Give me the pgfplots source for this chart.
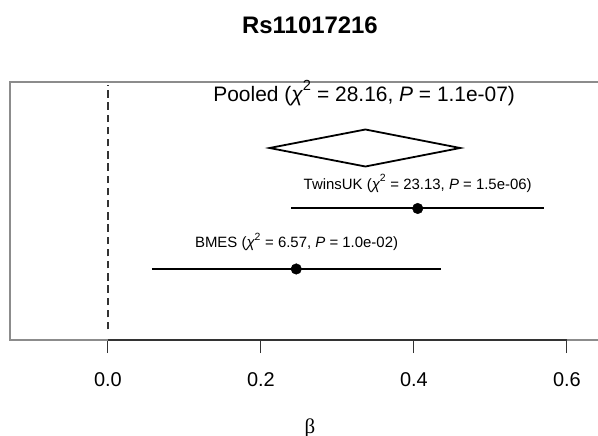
\documentclass[border=0pt]{standalone}
\usepackage{pgfplots}
\pgfplotsset{compat=1.18}
\usepackage{fontspec}
\setmainfont{Liberation Sans}
\newfontfamily\greekserif{Liberation Serif}

% chi-squared with an italic chi and a raised 2
\newcommand{\chisq}{{\itshape χ}\raisebox{0.15em}{\textsuperscript{2}}}

\begin{document}
\begin{tikzpicture}
\useasboundingbox (-10bp,-96bp) rectangle (588bp,340bp);
\clip (-10bp,-96bp) rectangle (588bp,340bp);
\begin{axis}[
  at={(0bp,0bp)}, anchor=south west,
  scale only axis, width=620bp, height=258bp,
  xmin=-0.128, xmax=0.6825, ymin=-0.174, ymax=4.091,
  axis line style={draw=black!45, line width=1.2bp},
  ytick=\empty,
  xtick={0,0.2,0.4,0.6},
  xtick pos=lower,
  tick align=outside,
  major tick length=13bp,
  x tick style={black!80, line width=0.9bp},
  xticklabel style={font=\fontsize{20}{24}\selectfont, anchor=base, yshift=-33bp},
  /pgf/number format/fixed,
  /pgf/number format/fixed zerofill,
  /pgf/number format/precision=1,
  /pgf/number format/assume math mode=true,
  clip=false,
]
% dark axis segment spanning the ticks
\addplot[black!80, line width=1.3bp] coordinates {(0,-0.174) (0.6,-0.174)};

% null effect reference line
\addplot[black!80, line width=1.9bp, dash pattern=on 7.5bp off 4.7bp]
  coordinates {(0,0) (0,4.04)};

% BMES: 95% CI and estimate
\addplot[black, line width=2bp] coordinates {(0.0574,1) (0.4353,1)};
\addplot[only marks, mark=*, mark size=5.3bp, black] coordinates {(0.2462,1)};

% TwinsUK: 95% CI and estimate
\addplot[black, line width=2bp] coordinates {(0.2397,2) (0.5700,2)};
\addplot[only marks, mark=*, mark size=5.3bp, black] coordinates {(0.4050,2)};

% pooled estimate diamond
\addplot[black, line width=1.8bp, fill=white, line join=miter]
  coordinates {(0.2113,3) (0.3366,3.306) (0.4605,3) (0.3366,2.694)} -- cycle;

\node[font=\fontsize{15}{18}\selectfont] at (axis cs:0.2466,1.451)
  {BMES (\chisq{} = 6.57, \textit{P} = 1.0e-02)};
\node[font=\fontsize{15}{18}\selectfont] at (axis cs:0.4050,2.417)
  {TwinsUK (\chisq{} = 23.13, \textit{P} = 1.5e-06)};
\node[font=\fontsize{21}{25}\selectfont] at (axis cs:0.3350,3.909)
  {Pooled (\chisq{} = 28.16, \textit{P} = 1.1e-07)};
\end{axis}

\node[font=\fontsize{24}{28}\selectfont\bfseries, anchor=base] at (300bp,306bp) {Rs11017216};
\node[font=\fontsize{21}{25}\selectfont\greekserif, anchor=base] at (300bp,-93bp) {β};
\end{tikzpicture}
\end{document}
